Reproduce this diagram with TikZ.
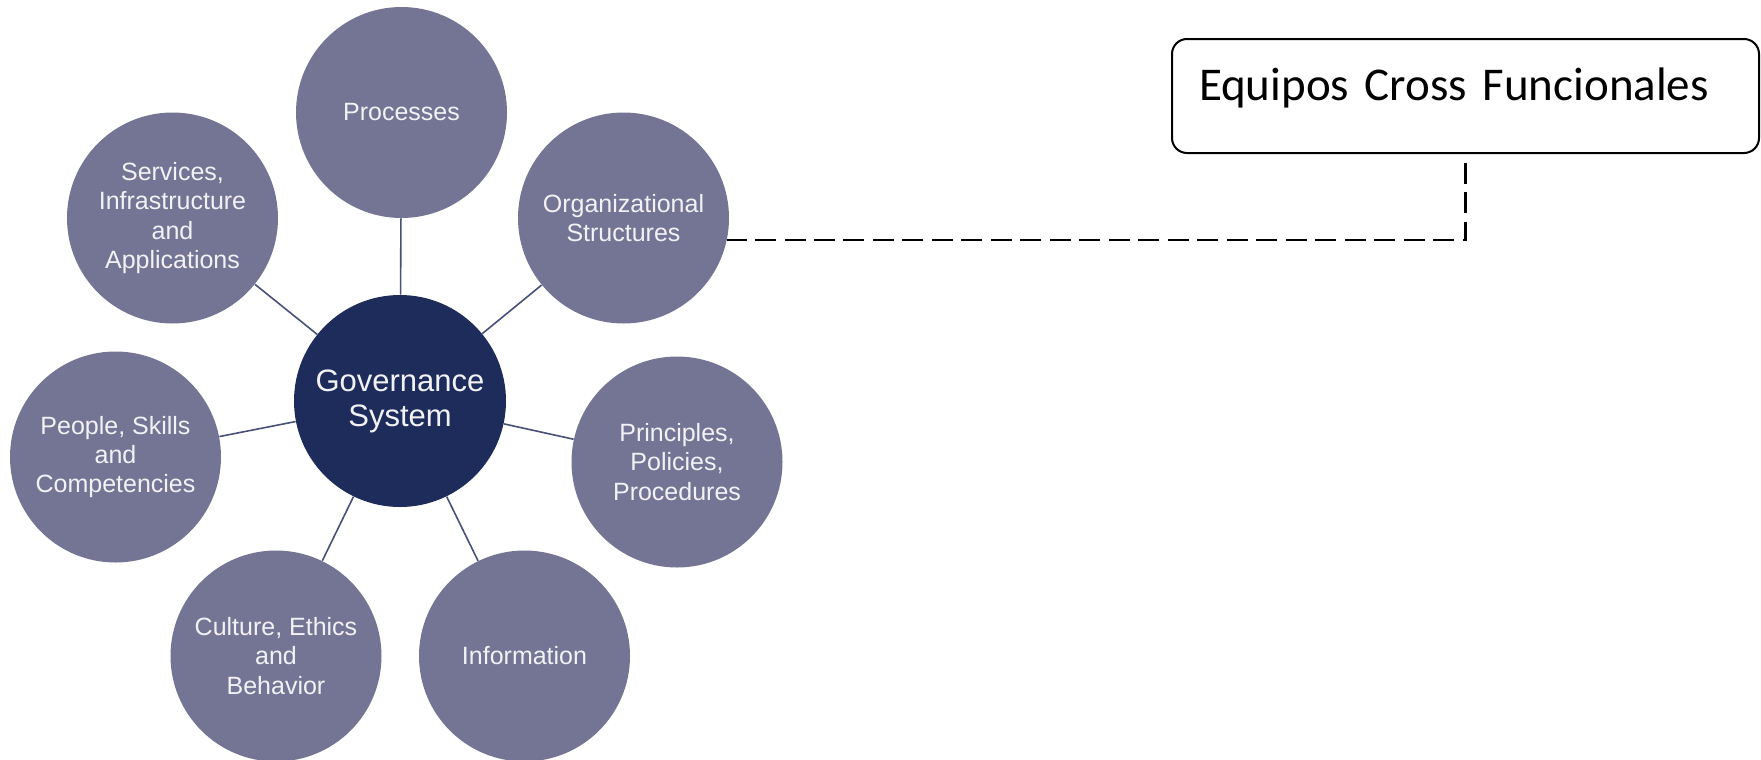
\documentclass[tikz,border=0pt]{standalone}
\usepackage{fontspec}
\setmainfont{Liberation Sans}
\newfontfamily\calfont{Carlito}
\definecolor{diagramgrey}{RGB}{116,117,148}
\definecolor{diagramnavy}{RGB}{29,44,90}
\definecolor{diagramspoke}{RGB}{72,80,120}
\definecolor{diagramtext}{RGB}{242,242,246}

\begin{document}
\begin{tikzpicture}[x=0.5pt, y=-0.5pt, every node/.style={align=center},
        areaCircle/.style={circle, fill=diagramgrey, minimum size=105.5pt, inner sep=0pt, text=diagramtext, font=\fontsize{12.5}{14.7}\selectfont},
        spokeLine/.style={draw=diagramspoke, line width=0.8pt}]

        \useasboundingbox (0,0) rectangle (1761,760);

        % Centre circle
        \node[circle, fill=diagramnavy, minimum size=106pt, inner sep=0pt, text=diagramtext, font=\fontsize{15.5}{17.5}\selectfont] (govCircle) at (400,401) {Governance\\System};

        % Outer circles
        \node[areaCircle] (procCircle) at (401.5,112.5) {Processes};
        \node[areaCircle] (orgCircle) at (623.5,218) {Organizational\\Structures};
        \node[areaCircle] (prinCircle) at (677,462) {Principles,\\Policies,\\Procedures};
        \node[areaCircle] (infoCircle) at (524.5,656) {Information};
        \node[areaCircle] (cultCircle) at (276,656) {Culture, Ethics\\and\\Behavior};
        \node[areaCircle] (peopCircle) at (115.5,457) {People, Skills\\and\\Competencies};
        \node[areaCircle] (servCircle) at (172.5,218) {Services,\\Infrastructure\\and\\Applications};

        % Spokes
        \draw[spokeLine] (govCircle) -- (procCircle);
        \draw[spokeLine] (govCircle) -- (orgCircle);
        \draw[spokeLine] (govCircle) -- (prinCircle);
        \draw[spokeLine] (govCircle) -- (infoCircle);
        \draw[spokeLine] (govCircle) -- (cultCircle);
        \draw[spokeLine] (govCircle) -- (peopCircle);
        \draw[spokeLine] (govCircle) -- (servCircle);

        % Right box
        \node[draw=black, line width=1pt, rounded corners=7.5pt, inner xsep=13.5pt, inner ysep=0pt, text width=266.5pt, text height=30.5pt, text depth=26.5pt, align=left, font=\calfont\fontsize{23.5}{28}\selectfont] (eqBox) at (1465.5,96) {Equipos Cross Funcionales};

        \draw[black, line width=1.3pt, dash pattern=on 10.5pt off 4.24pt, shorten <=4.5pt] (eqBox.south) |- (orgCircle.-12);

    \end{tikzpicture}
\end{document}
